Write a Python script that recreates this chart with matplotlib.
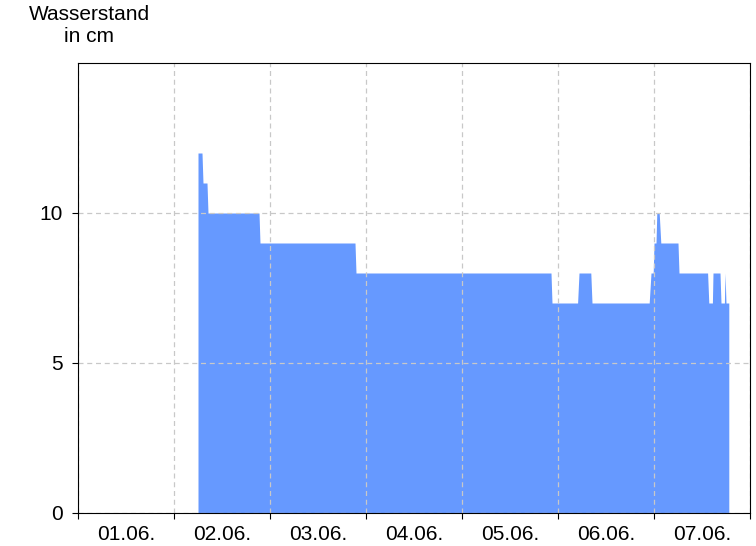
import matplotlib
matplotlib.use("Agg")
import matplotlib.pyplot as plt
from matplotlib.ticker import FixedLocator, NullFormatter, FixedFormatter

plt.rcParams['font.family'] = ['Liberation Sans', 'DejaVu Sans']

# time in hours since 01.06. 00:00, water level in cm
hours = [30, 31, 31.25, 32.25, 32.5, 45.25, 45.5, 69.25, 69.5,
         118.25, 118.5, 124.9, 125.25, 128.2, 128.5, 142.8, 143.25,
         143.8, 144.0, 144.5, 144.7, 145.3, 145.7, 150.0, 150.25,
         157.4, 157.7, 158.6, 158.75, 160.5, 160.75, 161.6, 161.75,
         162.0, 162.7]
level = [12, 12, 11, 11, 10, 10, 9, 9, 8,
         8, 7, 7, 8, 8, 7, 7, 8,
         8, 9, 9, 10, 10, 9, 9, 8,
         8, 7, 7, 8, 8, 7, 7, 8,
         7, 7]

day_labels = ["01.06.", "02.06.", "03.06.", "04.06.", "05.06.", "06.06.", "07.06."]
y_ticks = [0, 5, 10]

W, H = 756, 546
fig = plt.figure(figsize=(W / 100, H / 100), dpi=100)
ax = fig.add_axes([78 / W, (H - 513) / H, (750 - 78) / W, (513 - 63) / H])

days = [h / 24 for h in hours]
ax.fill_between(days, 0, level, color='#6699FF', linewidth=0, zorder=1)

ax.set_xlim(0, 7)
ax.set_ylim(0, 15)

ax.xaxis.set_major_locator(FixedLocator(range(0, 8)))
ax.xaxis.set_major_formatter(NullFormatter())
ax.xaxis.set_minor_locator(FixedLocator([i + 0.5 for i in range(len(day_labels))]))
ax.xaxis.set_minor_formatter(FixedFormatter(day_labels))
ax.tick_params(axis='x', which='major', length=4, width=0.8, direction='out')
ax.tick_params(axis='x', which='minor', length=0, labelsize=15, pad=9)

ax.set_yticks(y_ticks)
ax.tick_params(axis='y', length=4, width=0.8, labelsize=15, pad=7)

ax.grid(True, which='major', axis='both', color='#c8c8c8', linestyle=(0, (4, 3)), linewidth=0.9)
ax.set_axisbelow('line')
for s in ax.spines.values():
    s.set_linewidth(0.8)
    s.set_color('black')
    s.set_zorder(3)

fig.text(89 / W, 1 - 15 / H, "Wasserstand", ha='center', va='center', fontsize=15)
fig.text(89 / W, 1 - 37 / H, "in cm", ha='center', va='center', fontsize=15)

fig.savefig("out.png", dpi=100)
